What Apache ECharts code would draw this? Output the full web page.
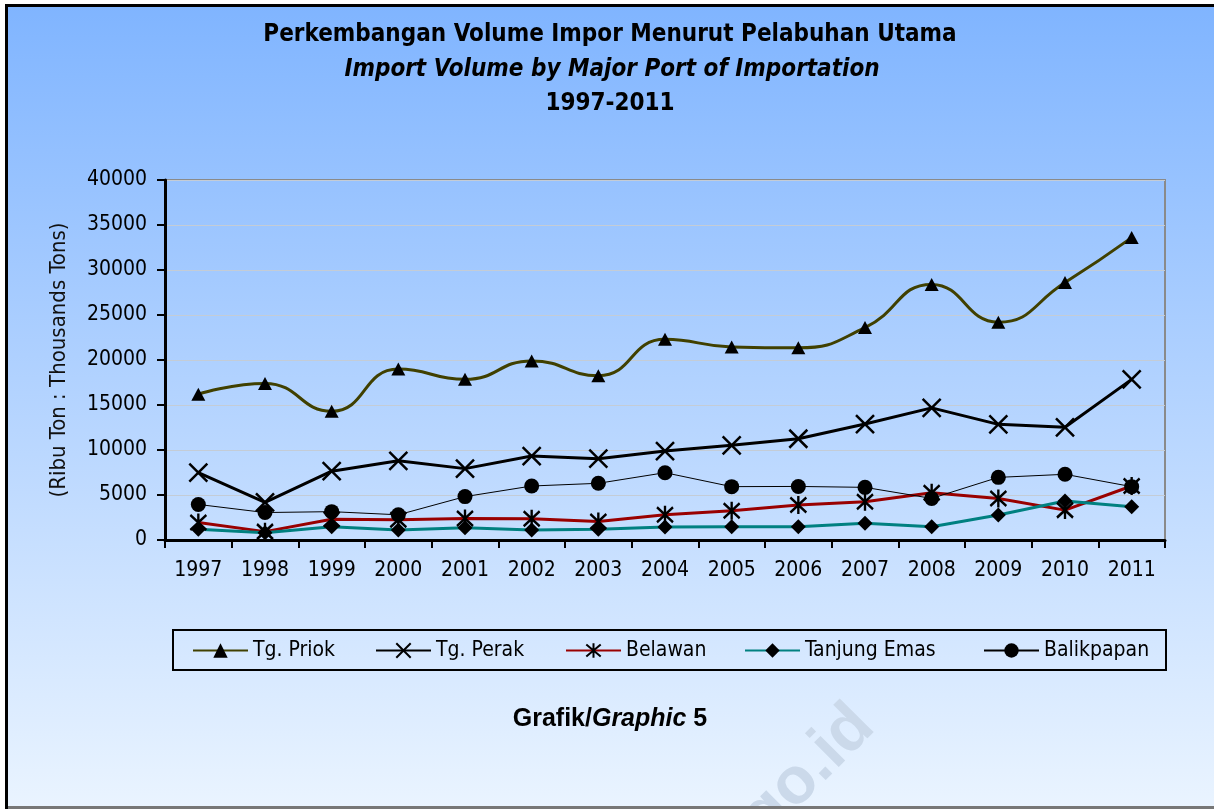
<!DOCTYPE html>
<html><head><meta charset="utf-8">
<script src="https://cdn.jsdelivr.net/npm/echarts@6/dist/echarts.min.js"></script>
<style>html,body{margin:0;padding:0;background:#fff}#c{width:1214px;height:809px}</style>
</head><body><div id="c"></div>
<script>
const years = ['1997','1998','1999','2000','2001','2002','2003','2004','2005','2006','2007','2008','2009','2010','2011'];
const tgPriok    = [16200, 17400, 14300, 19000, 17850, 19900, 18250, 22300, 21450, 21350, 23600, 28400, 24200, 28600, 33600];
const tgPerak    = [7480, 4180, 7650, 8800, 7930, 9330, 9040, 9880, 10520, 11250, 12880, 14680, 12850, 12520, 17850];
const belawan    = [1950, 930, 2300, 2250, 2400, 2350, 2050, 2800, 3250, 3880, 4250, 5250, 4620, 3320, 6000];
const tanjungEmas= [1200, 800, 1480, 1100, 1370, 1100, 1200, 1450, 1480, 1480, 1850, 1480, 2780, 4330, 3700];
const balikpapan = [3950, 3050, 3150, 2800, 4820, 6000, 6300, 7480, 5930, 5950, 5850, 4620, 6960, 7300, 5930];
const seriesNames = ['Tg. Priok','Tg. Perak','Belawan','Tanjung Emas','Balikpapan'];
const titleLines = ['Perkembangan Volume Impor Menurut Pelabuhan Utama','Import Volume by Major Port of Importation','1997-2011'];
const yAxisName = '(Ribu Ton : Thousands Tons)';

const F = "'DejaVu Sans Condensed','DejaVu Sans',sans-serif";
const FA = "'Liberation Sans',Arial,sans-serif";
const XSYM = 'path://M0,0L10,10M10,0L0,10';
const ASYM = 'path://M0,0L10,10M10,0L0,10M5,-1L5,11';

const chart = echarts.init(document.getElementById('c'), null, {renderer:'canvas'});

function legendAt(name, left){
  return {data:[name], left:left, top:640, itemWidth:55, itemHeight:18, padding:0, selectedMode:false,
    textStyle:{fontSize:21, fontFamily:F, color:'#000'}};
}
function txt(text, x, y, font){
  return {type:'text', x:x, y:y, z:100, style:{text:text, font:font, fill:'#000',
    align:'center', verticalAlign:'middle', textAlign:'center', textVerticalAlign:'middle'}};
}

const option = {
  animation:false,
  backgroundColor: new echarts.graphic.LinearGradient(0,0,0,1,[{offset:0,color:'#7fb4ff'},{offset:1,color:'#eaf4ff'}]),
  grid:{left:165, right:49, top:180, bottom:269, show:true, borderColor:'#8a8a8a', borderWidth:2, backgroundColor:'transparent'},
  legend:[legendAt(seriesNames[0],192), legendAt(seriesNames[1],375), legendAt(seriesNames[2],565), legendAt(seriesNames[3],744), legendAt(seriesNames[4],983)],
  xAxis:{type:'category', data:years, boundaryGap:true,
    axisLine:{lineStyle:{color:'#000', width:3}},
    axisTick:{show:true, length:8, lineStyle:{color:'#000', width:2}},
    axisLabel:{fontSize:21, fontFamily:F, color:'#000', margin:20}},
  yAxis:{type:'value', min:0, max:40000, interval:5000,
    name:yAxisName, nameLocation:'middle', nameRotate:90, nameGap:95,
    nameTextStyle:{fontSize:22, fontFamily:F, color:'#111'},
    axisLine:{show:true, lineStyle:{color:'#000', width:3}},
    axisTick:{show:true, length:8, lineStyle:{color:'#000', width:2}},
    axisLabel:{fontSize:21, fontFamily:F, color:'#000', margin:18, formatter:function(v){return String(v);}},
    splitLine:{lineStyle:{color:'#c4ccd6', width:1}}},
  series:[
    {name:seriesNames[0], type:'line', data:tgPriok, smooth:0.5, symbol:'triangle', symbolSize:[14,13], showAllSymbol:true,
      itemStyle:{color:'#000'}, lineStyle:{color:'#404000', width:3}},
    {name:seriesNames[1], type:'line', data:tgPerak, symbol:XSYM, symbolSize:18, showAllSymbol:true,
      itemStyle:{color:'#000', borderColor:'#000', borderWidth:2.5}, lineStyle:{color:'#000', width:3}},
    {name:seriesNames[2], type:'line', data:belawan, symbol:ASYM, symbolSize:[16,18], showAllSymbol:true,
      itemStyle:{color:'#000', borderColor:'#000', borderWidth:2.5}, lineStyle:{color:'#990000', width:3}},
    {name:seriesNames[3], type:'line', data:tanjungEmas, symbol:'diamond', symbolSize:15, showAllSymbol:true,
      itemStyle:{color:'#000'}, lineStyle:{color:'#008080', width:3}},
    {name:seriesNames[4], type:'line', data:balikpapan, symbol:'circle', symbolSize:15, showAllSymbol:true,
      itemStyle:{color:'#000'}, lineStyle:{color:'#000', width:1}}
  ],
  graphic:{elements:[
    {type:'text', x:864, y:716, rotation:Math.PI/4, z:1, silent:true,
      style:{text:'bps.go.id', font:'bold 66px ' + FA, fill:'#cbd9ea', align:'right', verticalAlign:'middle', textAlign:'right', textVerticalAlign:'middle'}},
    {type:'rect', z:100, shape:{x:0,y:0,width:1214,height:4}, style:{fill:'#fff'}},
    {type:'rect', z:100, shape:{x:0,y:0,width:5,height:809}, style:{fill:'#fff'}},
    {type:'rect', z:100, shape:{x:5,y:4,width:1209,height:3}, style:{fill:'#000'}},
    {type:'rect', z:100, shape:{x:5,y:4,width:3,height:805}, style:{fill:'#000'}},
    {type:'rect', z:100, shape:{x:8,y:806,width:1206,height:3}, style:{fill:'#777'}},
    {type:'rect', z:100, shape:{x:173,y:630,width:993,height:40}, style:{fill:'none', stroke:'#000', lineWidth:2}},
    txt(titleLines[0], 610, 35, 'bold 24px ' + F),
    txt(titleLines[1], 612, 70, 'italic bold 24px ' + F),
    txt(titleLines[2], 610, 104, 'bold 24px ' + F),
    {type:'text', x:610, y:719, z:100, style:{text:'{a|Grafik/}{b|Graphic}{a| 5}', fill:'#000',
      align:'center', verticalAlign:'middle', textAlign:'center', textVerticalAlign:'middle',
      rich:{a:{font:'bold 25px ' + FA, fill:'#000'}, b:{font:'italic bold 25px ' + FA, fill:'#000'}}}}
  ]}
};
chart.setOption(option);
</script></body></html>
